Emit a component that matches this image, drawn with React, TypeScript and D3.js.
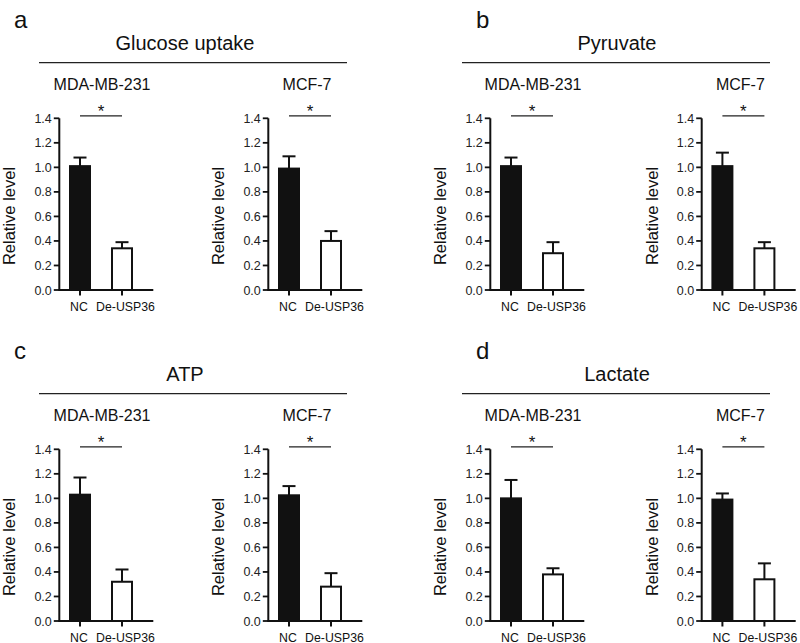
import React from "react";
import * as d3 from "d3";

const categories = ["NC", "De-USP36"];
const cellLines = ["MDA-MB-231", "MCF-7"];
const panelTitles = ["Glucose uptake", "Pyruvate", "ATP", "Lactate"];
const panelLetters = ["a", "b", "c", "d"];
const yTicks = [0, 0.2, 0.4, 0.6, 0.8, 1.0, 1.2, 1.4];

// [cell line][category]
const glucoseMean = [[1.01, 0.34], [0.99, 0.40]];
const glucoseErr = [[0.07, 0.05], [0.10, 0.08]];
const pyruvateMean = [[1.01, 0.30], [1.01, 0.34]];
const pyruvateErr = [[0.07, 0.09], [0.11, 0.05]];
const atpMean = [[1.03, 0.32], [1.025, 0.28]];
const atpErr = [[0.14, 0.10], [0.075, 0.11]];
const lactateMean = [[1.0, 0.38], [0.99, 0.34]];
const lactateErr = [[0.15, 0.05], [0.05, 0.13]];

const means = [glucoseMean, pyruvateMean, atpMean, lactateMean];
const errs = [glucoseErr, pyruvateErr, atpErr, lactateErr];

const FONT = "'Liberation Sans', Arial, Helvetica, sans-serif";

// layout
const colX = [0, 431];
const rowY = [0, 331];
const chartAxisX = [59.3, 268.3];
const letterX = [14, 476];
const titleX = [185, 617];
const lineX = [[39, 347], [462, 770]];

function Chart({ ax, top, bottom, mean, err, cell }: any) {
  const y = d3.scaleLinear().domain([0, 1.4]).range([bottom, top]);
  const x = d3.scalePoint<string>().domain(categories).range([ax + 20.7, ax + 62.7]);
  const barW = 20;
  const fills = ["#111", "#fff"];
  const cx0 = x(categories[0])!;
  const cx1 = x(categories[1])!;
  const labelDx = [-1, 3.5];
  return (
    <g>
      <text x={(cx0 + cx1) / 2 + (cell === 0 ? 1 : -3)} y={top - 28} textAnchor="middle" fontSize={16} fontFamily={FONT} fill="#111">
        {cellLines[cell]}
      </text>
      {/* significance */}
      <line x1={cx0} x2={cx1} y1={top - 2.5} y2={top - 2.5} stroke="#222" strokeWidth={1.3} />
      <text x={(cx0 + cx1) / 2} y={top - 1} textAnchor="middle" fontSize={17} fontFamily={FONT} fill="#111">*</text>
      {/* bars */}
      {categories.map((c, i) => {
        const v = mean[i];
        const e = err[i];
        const cx = x(c)!;
        return (
          <g key={c}>
            <line x1={cx} x2={cx} y1={y(v)} y2={y(v + e)} stroke="#111" strokeWidth={2} />
            <line x1={cx - 6.5} x2={cx + 6.5} y1={y(v + e)} y2={y(v + e)} stroke="#111" strokeWidth={2} />
            <rect x={cx - barW / 2} y={y(v)} width={barW} height={bottom - y(v)} fill={fills[i]} stroke="#111" strokeWidth={2} />
          </g>
        );
      })}
      {/* y axis */}
      <line x1={ax} x2={ax} y1={top} y2={bottom} stroke="#111" strokeWidth={2} />
      {yTicks.map((t) => (
        <g key={t}>
          <line x1={ax - 5.5} x2={ax} y1={y(t)} y2={y(t)} stroke="#111" strokeWidth={1.8} />
          <text x={ax - 7.5} y={y(t)} dy="0.36em" textAnchor="end" fontSize={12.5} fontFamily={FONT} fill="#222">
            {d3.format(".1f")(t)}
          </text>
        </g>
      ))}
      {/* x axis */}
      <line x1={ax - 1} x2={ax + 94} y1={bottom} y2={bottom} stroke="#111" strokeWidth={2} />
      {categories.map((c, i) => (
        <g key={c}>
          <line x1={x(c)!} x2={x(c)!} y1={bottom} y2={bottom + 5.5} stroke="#111" strokeWidth={2} />
          <text x={x(c)! + labelDx[i]} y={bottom + 20.5} textAnchor="middle" fontSize={12.3} fontFamily={FONT} fill="#111">
            {c}
          </text>
        </g>
      ))}
      <text
        transform={`translate(${ax - 44},${bottom - 74}) rotate(-90)`}
        textAnchor="middle"
        fontSize={16.5}
        fontFamily={FONT}
        fill="#111"
      >
        Relative level
      </text>
    </g>
  );
}

export default function App() {
  return (
    <svg width={800} height={643} style={{ position: "absolute", left: 0, top: 0, background: "#fff" }}>
      <rect width={800} height={643} fill="#fff" />
      {panelTitles.map((title, p) => {
        const col = p % 2;
        const row = Math.floor(p / 2);
        const oy = rowY[row];
        const top = 118.3 + oy;
        const bottom = 290 + oy;
        return (
          <g key={title}>
            <text x={letterX[col]} y={28.3 + oy} fontSize={24} fontFamily={FONT} fill="#111">
              {panelLetters[p]}
            </text>
            <text x={titleX[col]} y={50 + oy} textAnchor="middle" fontSize={20} fontFamily={FONT} fill="#111">
              {title}
            </text>
            <line x1={lineX[col][0]} x2={lineX[col][1]} y1={62.7 + oy} y2={62.7 + oy} stroke="#222" strokeWidth={1.3} />
            {cellLines.map((cl, ci) => (
              <Chart
                key={cl}
                ax={chartAxisX[ci] + colX[col] + (col === 1 && ci === 1 ? 2.4 : 0)}
                top={top}
                bottom={bottom}
                mean={means[p][ci]}
                err={errs[p][ci]}
                cell={ci}
              />
            ))}
          </g>
        );
      })}
    </svg>
  );
}
